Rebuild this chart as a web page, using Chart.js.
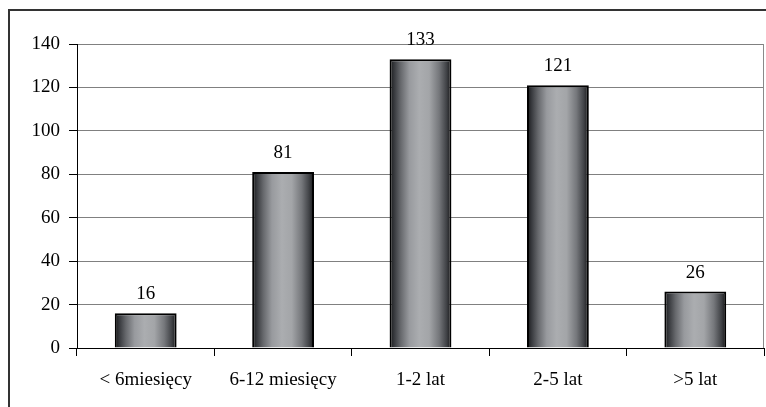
<!DOCTYPE html>
<html>
<head>
<meta charset="utf-8">
<script src="https://cdn.jsdelivr.net/npm/chart.js@4/dist/chart.umd.min.js"></script>
<style>
  html, body { margin: 0; padding: 0; background: #fff; }
  #wrap { width: 766px; height: 407px; position: relative; }
</style>
</head>
<body>
<div id="wrap"><canvas id="c" width="766" height="407"></canvas></div>
<script>
// Categories (duration) and counts
const categories = ['< 6miesięcy', '6-12 miesięcy', '1-2 lat', '2-5 lat', '>5 lat'];
const counts = [16, 81, 133, 121, 26];
const yTicks = [0, 20, 40, 60, 80, 100, 120, 140];

const FONT = '"Liberation Serif", "Times New Roman", serif';

// Cylinder-like horizontal shading for each bar
function barFill(ctx) {
  const chart = ctx.chart;
  const xs = chart.scales && chart.scales.x;
  if (!chart.chartArea || !xs || ctx.dataIndex === undefined) return '#999';
  const meta = chart.getDatasetMeta(0);
  const el = meta.data[ctx.dataIndex];
  const cx = xs.getPixelForValue(ctx.dataIndex);
  const half = el && el.width ? el.width / 2 : 31;
  const g = chart.ctx.createLinearGradient(cx - half, 0, cx + half, 0);
  g.addColorStop(0.00, '#151515');
  g.addColorStop(0.07, '#35373b');
  g.addColorStop(0.18, '#66686c');
  g.addColorStop(0.32, '#989a9e');
  g.addColorStop(0.48, '#abadb0');
  g.addColorStop(0.64, '#a3a5a8');
  g.addColorStop(0.80, '#75777b');
  g.addColorStop(0.92, '#404246');
  g.addColorStop(1.00, '#141415');
  return g;
}

// Outer frame, right edge of the plot and value labels
const decorations = {
  id: 'decorations',
  beforeDraw(chart) {
    const c = chart.ctx;
    c.save();
    c.fillStyle = '#fff';
    c.fillRect(0, 0, chart.width, chart.height);
    c.strokeStyle = '#333';
    c.lineWidth = 2;
    c.strokeRect(9, 10, 1000, 1000);
    c.restore();
  },
  afterDraw(chart) {
    const c = chart.ctx;
    const a = chart.chartArea;
    c.save();
    c.strokeStyle = '#8a8a8a';
    c.lineWidth = 1;
    c.beginPath();
    c.moveTo(a.right - 0.5, a.top);
    c.lineTo(a.right - 0.5, a.bottom);
    c.stroke();
    const meta = chart.getDatasetMeta(0);
    c.fillStyle = '#000';
    c.font = '19px ' + FONT;
    c.textAlign = 'center';
    c.textBaseline = 'alphabetic';
    meta.data.forEach((bar, i) => {
      c.fillText(String(counts[i]), bar.x, bar.y - 14);
    });
    c.restore();
  }
};

new Chart(document.getElementById('c'), {
  type: 'bar',
  data: {
    labels: categories,
    datasets: [{
      data: counts,
      backgroundColor: barFill,
      borderColor: '#000',
      borderWidth: 2,
      categoryPercentage: 0.9,
      barPercentage: 0.5
    }]
  },
  options: {
    responsive: false,
    animation: false,
    devicePixelRatio: 1,
    layout: { padding: { left: 0, top: 44, right: 2, bottom: 0 } },
    plugins: { legend: { display: false }, tooltip: { enabled: false } },
    scales: {
      x: {
        grid: {
          offset: true,
          drawOnChartArea: false,
          drawTicks: true,
          tickLength: 8,
          color: '#000',
          tickColor: '#000'
        },
        border: { display: true, color: '#000', width: 1 },
        ticks: {
          color: '#000',
          font: { family: FONT, size: 19 },
          padding: 13,
          maxRotation: 0,
          minRotation: 0,
          autoSkip: false
        },
        afterFit(scale) { scale.height = 59; }
      },
      y: {
        min: 0,
        max: 140,
        afterBuildTicks(scale) { scale.ticks = yTicks.map(v => ({ value: v })); },
        grid: {
          color: '#808080',
          tickColor: '#000',
          tickLength: 8,
          lineWidth: 1
        },
        border: { display: true, color: '#000', width: 1 },
        ticks: {
          color: '#000',
          font: { family: FONT, size: 19 },
          padding: 9
        },
        afterFit(scale) { scale.width = 77; }
      }
    }
  },
  plugins: [decorations]
});
</script>
</body>
</html>
